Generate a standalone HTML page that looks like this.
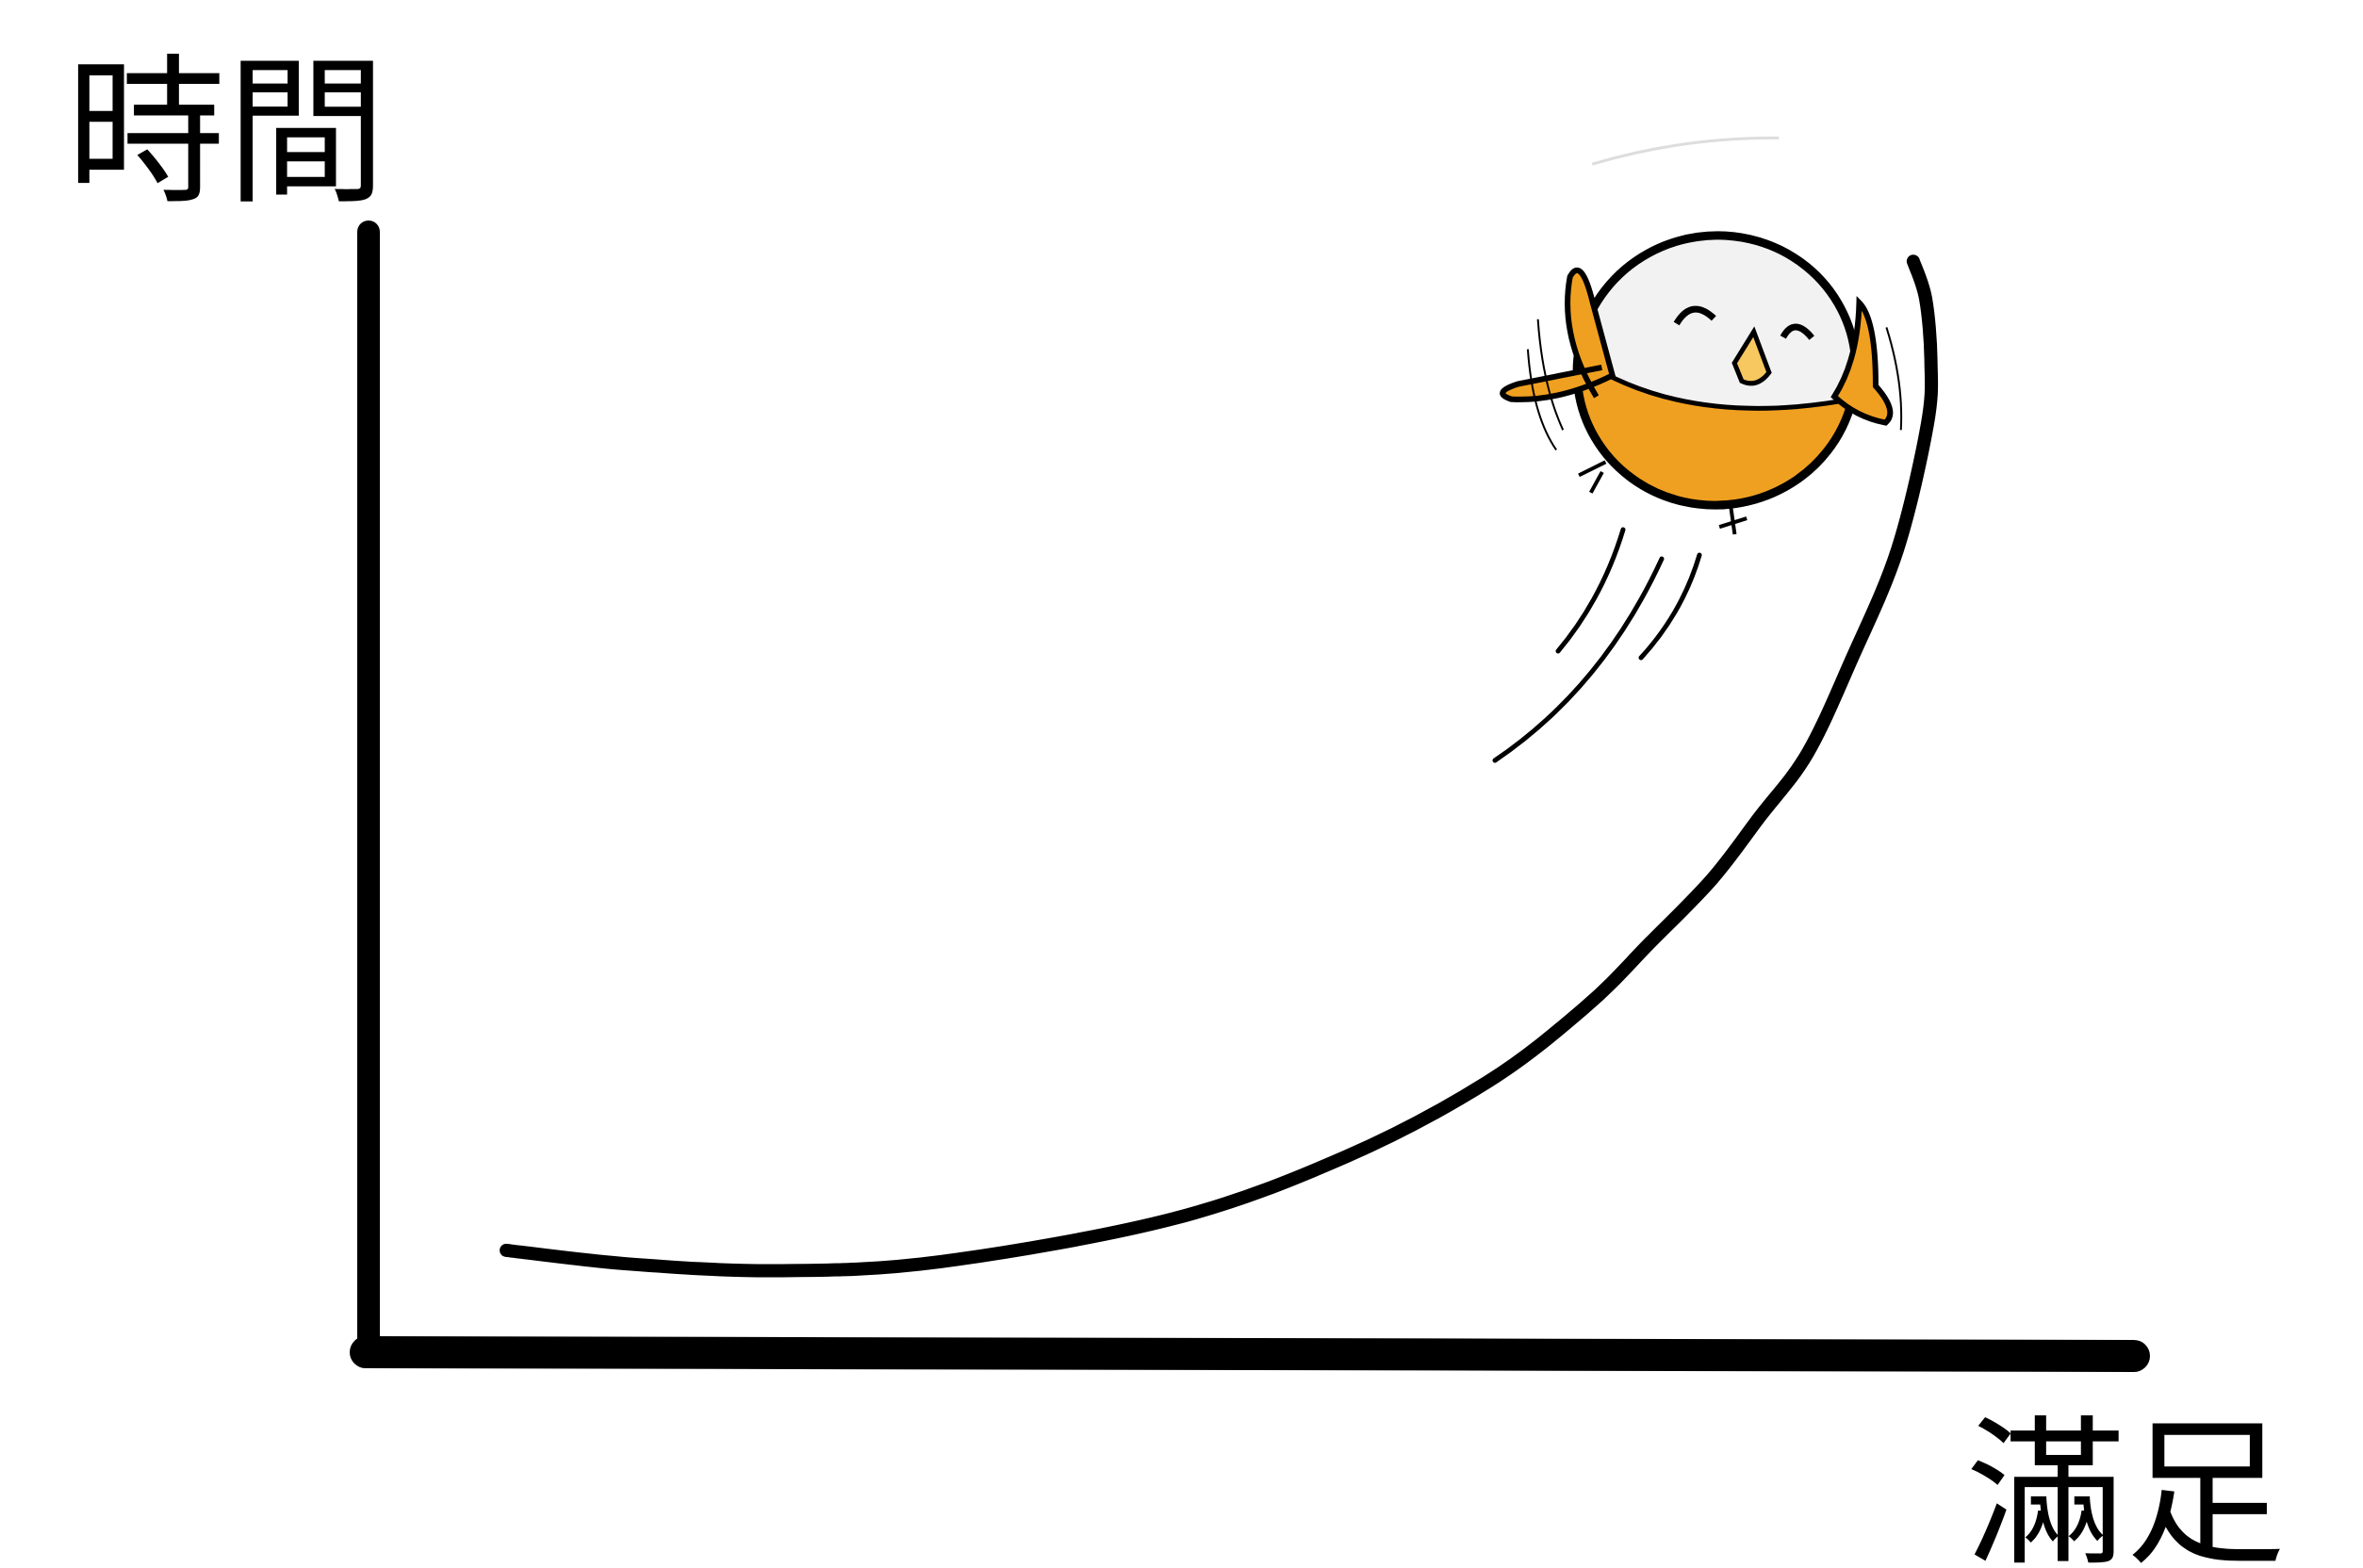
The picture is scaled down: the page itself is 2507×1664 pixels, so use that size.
<!DOCTYPE html>
<html><head><meta charset="utf-8"><style>
html,body{margin:0;padding:0;background:#fff}
svg{display:block}
text{font-family:"Liberation Sans","Noto Sans CJK TC","WenQuanYi Zen Hei",sans-serif;font-weight:normal;fill:#000}
</style></head><body>
<svg id="chart" width="2507" height="1664" viewBox="0 0 2507 1664" xmlns="http://www.w3.org/2000/svg">
<rect width="2507" height="1664" fill="#fff"/>
<text x="70" y="200" font-size="170">時間</text>
<text x="2085" y="1645" font-size="170">滿足</text>
<path d="M391 246 L391 1435" stroke="#000" stroke-width="24" stroke-linecap="round" fill="none"/>
<path d="M388 1435 L2264 1439" stroke="#000" stroke-width="34" stroke-linecap="round" fill="none"/>
<g id="curveLayer"></g>
<g transform="translate(1821,393) rotate(-8)">
  <defs><clipPath id="bc"><ellipse cx="0" cy="0" rx="148" ry="143"/></clipPath></defs>
  <path d="M-100 -235 Q0 -250 100 -235" stroke="#ddd" stroke-width="3" fill="none"/>
  <g clip-path="url(#bc)">
    <rect x="-160" y="-160" width="320" height="320" fill="#f2f2f2"/>
    <path d="M-160 -40 Q-40 60 160 50 L160 160 L-160 160 Z" fill="#f0a020"/>
  </g>
  <path d="M-145 -35 Q-40 60 145 50" stroke="#000" stroke-width="5" fill="none"/>
  <ellipse cx="0" cy="0" rx="148" ry="143" fill="none" stroke="#000" stroke-width="9"/>
  <path d="M-130 10 Q-160 -60 -140 -120 Q-125 -140 -120 -90 L-110 -10 Q-170 10 -220 0 Q-240 -10 -210 -15 L-120 -20" fill="#f0a020" stroke="#000" stroke-width="6"/>
  <path d="M120 45 Q150 10 160 -50 Q175 -30 165 40 Q185 70 170 80 Q140 70 120 45Z" fill="#f0a020" stroke="#000" stroke-width="6"/>
  <path d="M-35 -55 Q-15 -80 5 -55" stroke="#000" stroke-width="7" fill="none"/>
  <path d="M75 -25 Q90 -45 105 -20" stroke="#000" stroke-width="7" fill="none"/>
  <path d="M20 -5 L45 -35 L55 10 Q40 25 25 15 Z" fill="#f7c860" stroke="#000" stroke-width="5"/>
  <path d="M-5 143 L-5 175 M-20 165 L10 160" stroke="#000" stroke-width="4"/>
  <path d="M-130 80 L-160 90 M-135 90 L-150 110" stroke="#000" stroke-width="4"/>
  <path d="M-195 -50 Q-200 20 -180 60 M-180 -80 Q-185 -10 -170 40" stroke="#000" stroke-width="2" fill="none"/>
  <path d="M185 -20 Q195 40 185 90" stroke="#000" stroke-width="2" fill="none"/>
</g>
<g stroke="#000" stroke-width="5" fill="none" stroke-linecap="round">
  <path d="M1722 562 Q1700 635 1653 691"/>
  <path d="M1763 593 Q1700 730 1586 807"/>
  <path d="M1803 589 Q1785 650 1741 698"/>
</g>
</svg>
<script>
const satisfaction=[7.8,14.7,23.1,32.4,45.6,55.4,63.4,69.0,72.6,76.1,78.8,81.5,84.0,86.6,88.3,88.5,88.2,87.5];
const timeValues=[10.0,8.8,8.2,9.0,12.8,18.3,24.9,31.6,37.2,42.8,48.3,53.9,62.2,71.9,83.0,88.6,94.1,97.4];
function xs(v){return 391+v/100*1873;}
function ys(v){return 1447-v/100*1201;}
const pts=satisfaction.map((s,i)=>[xs(s),ys(timeValues[i])]);
let d="M"+pts[0][0]+" "+pts[0][1];
for(let i=0;i<pts.length-1;i++){
  const p0=pts[Math.max(i-1,0)],p1=pts[i],p2=pts[i+1],p3=pts[Math.min(i+2,pts.length-1)];
  const c1=[p1[0]+(p2[0]-p0[0])/6,p1[1]+(p2[1]-p0[1])/6];
  const c2=[p2[0]-(p3[0]-p1[0])/6,p2[1]-(p3[1]-p1[1])/6];
  d+=" C"+c1[0]+" "+c1[1]+" "+c2[0]+" "+c2[1]+" "+p2[0]+" "+p2[1];
}
const path=document.createElementNS("http://www.w3.org/2000/svg","path");
path.setAttribute("d",d);
path.setAttribute("stroke","#000");
path.setAttribute("stroke-width","14");
path.setAttribute("fill","none");
path.setAttribute("stroke-linecap","round");


document.getElementById("curveLayer").appendChild(path);
</script>
</body></html>
